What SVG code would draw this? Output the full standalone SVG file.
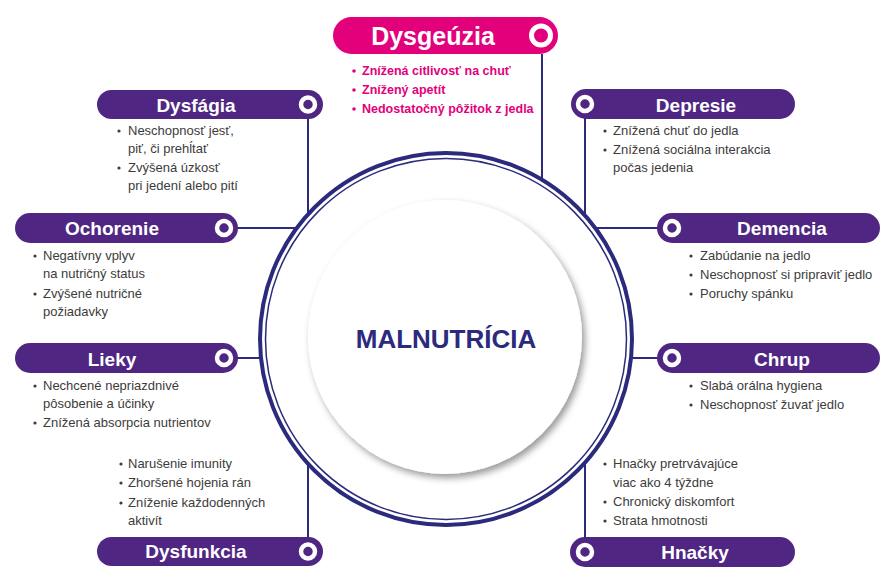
<svg xmlns="http://www.w3.org/2000/svg" width="894" height="587" viewBox="0 0 894 587">
<defs>
<style>
.pill{fill:#4f2783}
.pillm{fill:#e3007b}
.ttl{font-family:"Liberation Sans",Arial,sans-serif;font-weight:bold;font-size:19px;fill:#fff;text-anchor:middle}
.ttlm{font-family:"Liberation Sans",Arial,sans-serif;font-weight:bold;font-size:25px;fill:#fff;text-anchor:middle}
.txt{font-family:"Liberation Sans",Arial,sans-serif;font-size:13px;fill:#3c3c3b}
.txtm{font-family:"Liberation Sans",Arial,sans-serif;font-weight:bold;font-size:12.5px;fill:#e3007b}
.dot{fill:#3c3c3b}
.dotm{fill:#e3007b}
.ring{fill:none;stroke:#fff;stroke-width:4.5}
.conn{stroke:#2b2a7c;stroke-width:2;fill:none}
</style>
<filter id="sh" x="-20%" y="-20%" width="140%" height="140%">
<feDropShadow dx="3" dy="4" stdDeviation="3.5" flood-color="#000" flood-opacity="0.4"/>
</filter>
</defs>
<rect width="894" height="587" fill="#fff"/>

<g id="connectors">
<line class="conn" x1="542" y1="54" x2="542" y2="181"/>
<line class="conn" x1="308" y1="114" x2="308" y2="215"/>
<line class="conn" x1="585" y1="114" x2="585" y2="216"/>
<line class="conn" x1="236" y1="228" x2="297" y2="228"/>
<line class="conn" x1="236" y1="358" x2="261" y2="358"/>
<line class="conn" x1="595" y1="228" x2="660" y2="228"/>
<line class="conn" x1="631" y1="358" x2="660" y2="358"/>
<line class="conn" x1="308" y1="463" x2="308" y2="540"/>
<line class="conn" x1="585" y1="463" x2="585" y2="540"/>
</g>

<g id="center">
<circle cx="446" cy="339" r="186" fill="#fff" stroke="#2b2a7c" stroke-width="4"/>
<circle cx="446" cy="339" r="180.5" fill="none" stroke="#2b2a7c" stroke-width="1.5"/>
<circle cx="445" cy="337" r="137" fill="#fff" filter="url(#sh)"/>
<text x="446" y="348" font-family="'Liberation Sans',Arial,sans-serif" font-weight="bold" font-size="26" fill="#2b2a7c" text-anchor="middle">MALNUTRÍCIA</text>
</g>

<g id="dysgeuzia">
<rect class="pillm" x="333" y="17" width="225" height="37" rx="18.5"/>
<circle cx="541" cy="35.5" r="9.5" fill="none" stroke="#fff" stroke-width="5"/>
<text class="ttlm" x="433" y="45">Dysgeúzia</text>
<circle class="dotm" cx="354" cy="71" r="1.8"/>
<text class="txtm" x="362" y="75">Znížená citlivosť na chuť</text>
<circle class="dotm" cx="354" cy="90" r="1.8"/>
<text class="txtm" x="362" y="94">Znížený apetít</text>
<circle class="dotm" cx="354" cy="109" r="1.8"/>
<text class="txtm" x="362" y="113">Nedostatočný pôžitok z jedla</text>
</g>

<g id="dysfagia">
<rect class="pill" x="97" y="90" width="226" height="29" rx="14.5"/>
<circle class="ring" cx="308" cy="104.5" r="7"/>
<text class="ttl" x="196" y="112">Dysfágia</text>
<circle class="dot" cx="119" cy="131" r="1.6"/>
<text class="txt" x="128" y="135">Neschopnosť jesť,</text>
<text class="txt" x="128" y="153">piť, či prehĺtať</text>
<circle class="dot" cx="119" cy="168" r="1.6"/>
<text class="txt" x="128" y="172">Zvýšená úzkosť</text>
<text class="txt" x="128" y="190">pri jedení alebo pití</text>
</g>

<g id="depresie">
<rect class="pill" x="571" y="89" width="224" height="30" rx="15"/>
<circle class="ring" cx="585" cy="104" r="7"/>
<text class="ttl" x="696" y="112">Depresie</text>
<circle class="dot" cx="605" cy="131" r="1.6"/>
<text class="txt" x="613" y="135">Znížená chuť do jedla</text>
<circle class="dot" cx="605" cy="150" r="1.6"/>
<text class="txt" x="613" y="154">Znížená sociálna interakcia</text>
<text class="txt" x="613" y="172">počas jedenia</text>
</g>

<g id="ochorenie">
<rect class="pill" x="15" y="213" width="223" height="30" rx="15"/>
<circle class="ring" cx="224" cy="228" r="7"/>
<text class="ttl" x="112" y="235">Ochorenie</text>
<circle class="dot" cx="35" cy="256" r="1.6"/>
<text class="txt" x="43" y="260">Negatívny vplyv</text>
<text class="txt" x="43" y="278">na nutričný status</text>
<circle class="dot" cx="35" cy="294" r="1.6"/>
<text class="txt" x="43" y="298">Zvýšené nutričné</text>
<text class="txt" x="43" y="316">požiadavky</text>
</g>

<g id="lieky">
<rect class="pill" x="15" y="343" width="223" height="30" rx="15"/>
<circle class="ring" cx="224" cy="358" r="7"/>
<text class="ttl" x="112" y="366">Lieky</text>
<circle class="dot" cx="35" cy="386" r="1.6"/>
<text class="txt" x="43" y="390">Nechcené nepriazdnivé</text>
<text class="txt" x="43" y="408">pôsobenie a účinky</text>
<circle class="dot" cx="35" cy="423" r="1.6"/>
<text class="txt" x="43" y="427">Znížená absorpcia nutrientov</text>
</g>

<g id="demencia">
<rect class="pill" x="657" y="213" width="223" height="30" rx="15"/>
<circle class="ring" cx="672" cy="228" r="7"/>
<text class="ttl" x="782" y="235">Demencia</text>
<circle class="dot" cx="691" cy="256" r="1.6"/>
<text class="txt" x="700" y="260">Zabúdanie na jedlo</text>
<circle class="dot" cx="691" cy="275" r="1.6"/>
<text class="txt" x="700" y="279">Neschopnosť si pripraviť jedlo</text>
<circle class="dot" cx="691" cy="294" r="1.6"/>
<text class="txt" x="700" y="298">Poruchy spánku</text>
</g>

<g id="chrup">
<rect class="pill" x="657" y="343" width="223" height="30" rx="15"/>
<circle class="ring" cx="672" cy="358" r="7"/>
<text class="ttl" x="782" y="366">Chrup</text>
<circle class="dot" cx="691" cy="386" r="1.6"/>
<text class="txt" x="700" y="390">Slabá orálna hygiena</text>
<circle class="dot" cx="691" cy="405" r="1.6"/>
<text class="txt" x="700" y="409">Neschopnosť žuvať jedlo</text>
</g>

<g id="dysfunkcia">
<rect class="pill" x="97" y="537" width="226" height="29" rx="14.5"/>
<circle class="ring" cx="308" cy="551.5" r="7"/>
<text class="ttl" x="196" y="558">Dysfunkcia</text>
<circle class="dot" cx="121" cy="464" r="1.6"/>
<text class="txt" x="128" y="468">Narušenie imunity</text>
<circle class="dot" cx="121" cy="483" r="1.6"/>
<text class="txt" x="128" y="487">Zhoršené hojenia rán</text>
<circle class="dot" cx="121" cy="503" r="1.6"/>
<text class="txt" x="128" y="507">Zníženie každodenných</text>
<text class="txt" x="128" y="525">aktivít</text>
</g>

<g id="hnacky">
<rect class="pill" x="570" y="537" width="225" height="30" rx="15"/>
<circle class="ring" cx="585" cy="552" r="7"/>
<text class="ttl" x="695" y="559">Hnačky</text>
<circle class="dot" cx="605" cy="464" r="1.6"/>
<text class="txt" x="613" y="468">Hnačky pretrvávajúce</text>
<text class="txt" x="613" y="487">viac ako 4 týždne</text>
<circle class="dot" cx="605" cy="502" r="1.6"/>
<text class="txt" x="613" y="506">Chronický diskomfort</text>
<circle class="dot" cx="605" cy="521" r="1.6"/>
<text class="txt" x="613" y="525">Strata hmotnosti</text>
</g>
</svg>
